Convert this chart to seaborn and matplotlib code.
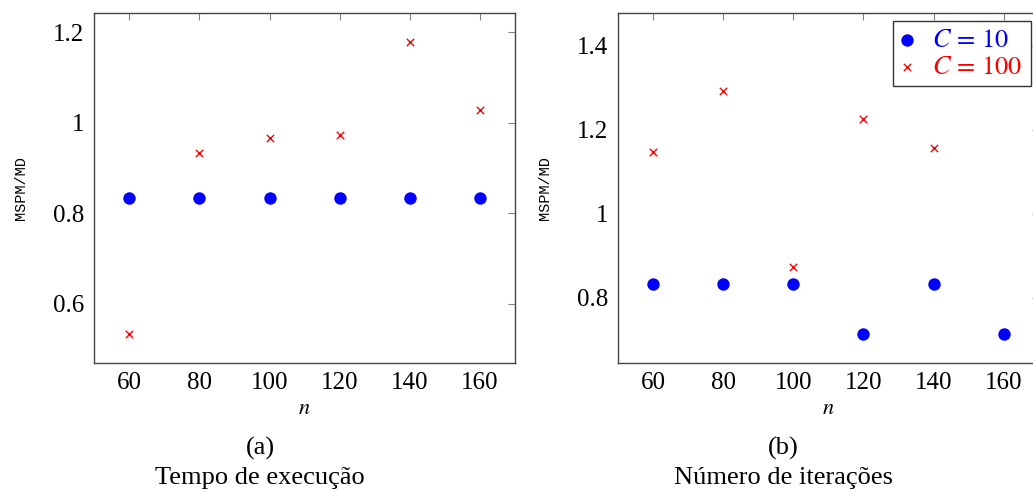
import matplotlib
matplotlib.use("Agg")
import matplotlib.pyplot as plt
import seaborn as sns
import pandas as pd

sns.set_theme(style="white")
plt.rcParams["font.family"] = ["Liberation Serif", "DejaVu Serif"]
plt.rcParams["mathtext.fontset"] = "stix"
plt.rcParams["text.color"] = "black"
plt.rcParams["axes.labelcolor"] = "black"
plt.rcParams["xtick.labelcolor"] = "black"
plt.rcParams["ytick.labelcolor"] = "black"

n_values = [60, 80, 100, 120, 140, 160]

# (a) Tempo de execucao
tempo_c10 = [0.833, 0.833, 0.833, 0.833, 0.833, 0.833]
tempo_c100 = [0.534, 0.933, 0.966, 0.973, 1.179, 1.027]

# (b) Numero de iteracoes
iter_c10 = [0.833, 0.833, 0.833, 0.714, 0.833, 0.714]
iter_c100 = [1.146, 1.293, 0.874, 1.225, 1.157]
iter_c100_n = [60, 80, 100, 120, 140]

BLUE = "#0000ff"
RED = "#ff0000"


def style_axes(ax, ylim, yticks, yticklabels):
    ax.set_xlim(50, 170)
    ax.set_ylim(*ylim)
    ax.set_xticks(n_values)
    ax.set_xticklabels([str(v) for v in n_values])
    ax.set_yticks(yticks)
    ax.set_yticklabels(yticklabels)
    ax.tick_params(direction="in", length=5, width=0.8, color="#808080",
                   top=True, right=True, labelsize=18, pad=7)
    for sp in ax.spines.values():
        sp.set_color("#444444")
        sp.set_linewidth(1.0)
    ax.set_xlabel("$n$", fontsize=16, labelpad=4)
    ax.set_ylabel("MSPM/MD", fontsize=11, family=["Liberation Mono", "DejaVu Sans Mono"])
    ax.yaxis.set_label_coords(-0.158, 0.5)


fig = plt.figure(figsize=(10.33, 4.92), dpi=100)
ax1 = fig.add_axes([0.0913, 0.2628, 0.4073, 0.7114])
ax2 = fig.add_axes([0.5983, 0.2628, 0.4073, 0.7114])

df_a10 = pd.DataFrame({"n": n_values, "ratio": tempo_c10})
df_a100 = pd.DataFrame({"n": n_values, "ratio": tempo_c100})
sns.scatterplot(data=df_a10, x="n", y="ratio", ax=ax1, color=BLUE, marker="o",
                s=80, linewidth=0, label="$C = 10$", legend=False)
sns.scatterplot(data=df_a100, x="n", y="ratio", ax=ax1, color=RED, marker="x",
                s=28, linewidth=1.0, label="$C = 100$", legend=False)
style_axes(ax1, (0.47, 1.243), [0.6, 0.8, 1.0, 1.2], ["0.6", "0.8", "1", "1.2"])

df_b10 = pd.DataFrame({"n": n_values, "ratio": iter_c10})
df_b100 = pd.DataFrame({"n": iter_c100_n, "ratio": iter_c100})
sns.scatterplot(data=df_b10, x="n", y="ratio", ax=ax2, color=BLUE, marker="o",
                s=80, linewidth=0, label="$C\\,=\\,10$")
sns.scatterplot(data=df_b100, x="n", y="ratio", ax=ax2, color=RED, marker="x",
                s=28, linewidth=1.0, label="$C\\,=\\,100$")
style_axes(ax2, (0.645, 1.479), [0.8, 1.0, 1.2, 1.4], ["0.8", "1", "1.2", "1.4"])

leg = ax2.legend(loc="upper right", bbox_to_anchor=(1030.5 / 1033, 1 - 20.5 / 492),
                 bbox_transform=fig.transFigure, fontsize=19, frameon=True,
                 fancybox=False, handletextpad=0.7, borderpad=0.3,
                 labelspacing=0.12, handlelength=0.5, borderaxespad=0)
leg.get_frame().set_edgecolor("black")
leg.get_frame().set_linewidth(1.0)
for txt, col in zip(leg.get_texts(), [BLUE, RED]):
    txt.set_color(col)

fig.text(260 / 1033, 1 - 448 / 492, "(a)", ha="center", va="center", fontsize=19)
fig.text(260 / 1033, 1 - 478 / 492, "Tempo de execução", ha="center", va="center",
         fontsize=19)
fig.text(783 / 1033, 1 - 448 / 492, "(b)", ha="center", va="center", fontsize=19)
fig.text(783 / 1033, 1 - 478 / 492, "Número de iterações", ha="center", va="center",
         fontsize=19)

fig.savefig("out.png", dpi=100)
